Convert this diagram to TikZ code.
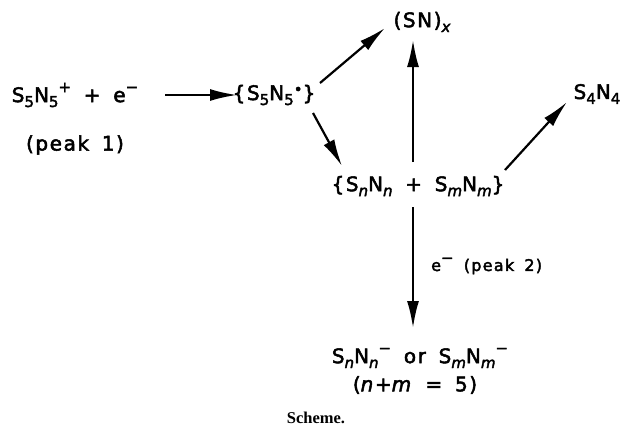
\documentclass[tikz,border=0pt]{standalone}
\usepackage{fontspec}
\setmainfont{DejaVu Sans}[LetterSpace=8,FakeBold=2.5,WordSpace=1.6]
\newfontfamily\capfont{Liberation Serif}
\usetikzlibrary{arrows.meta}
\newcommand\lo[1]{\raisebox{-0.45ex}{\fontsize{15}{15}\selectfont #1}}
\newcommand\hi[1]{\raisebox{0.9ex}{\fontsize{15}{15}\selectfont #1}}
\newcommand\dt[1]{\raisebox{0.5ex}{\fontsize{15}{15}\selectfont #1}}
\begin{document}
\begin{tikzpicture}[x=1pt,y=-1pt,
  chem/.style={inner sep=0pt,font=\fontsize{20}{24}\selectfont},
  rxn/.style={line width=2.2pt,-{Latex[length=27pt,width=12pt]}}]
\useasboundingbox (0,0) rectangle (621,432);
\node[chem] (r) at (75,95) {S\lo{5}N\lo{5}\hi{+} + e\hi{−}};
\node[chem] (p1) at (75,145) {(peak 1)};
\node[chem] (rad) at (274,95) {\{S\lo{5}N\lo{5}\dt{•}\}};
\node[chem] (sn) at (422,22) {(SN)\lo{\itshape x}};
\node[chem] (mix) at (418,186) {\{S\lo{\itshape n}N\lo{\itshape n} + S\lo{\itshape m}N\lo{\itshape m}\}};
\node[chem] (s4) at (597,94) {S\lo{4}N\lo{4}};
\node[chem] (an) at (420,358) {S\lo{\itshape n}N\lo{\itshape n}\hi{−} or S\lo{\itshape m}N\lo{\itshape m}\hi{−}};
\node[chem] (nm) at (415,385) {(\textit{n}+\textit{m} = 5)};
\node[inner sep=0pt,font=\capfont\bfseries\fontsize{16.5}{18}\selectfont] (cap) at (316,418) {Scheme.};
\coordinate (a1s) at (165,95); \coordinate (a1e) at (237,95);
\draw[rxn] (a1s) -- (a1e);
\coordinate (a2s) at (320,83); \coordinate (a2e) at (385,28);
\draw[rxn] (a2s) -- (a2e);
\coordinate (a3s) at (313,113); \coordinate (a3e) at (342,166);
\draw[rxn] (a3s) -- (a3e);
\coordinate (a4s) at (413,162); \coordinate (a4e) at (413,40);
\draw[rxn] (a4s) -- (a4e);
\coordinate (a5s) at (505,170); \coordinate (a5e) at (567,102);
\draw[rxn] (a5s) -- (a5e);
\coordinate (a6s) at (413,207); \coordinate (a6e) at (413,328);
\draw[rxn] (a6s) -- (a6e);
\node[chem,font=\fontsize{16}{18}\selectfont,anchor=west] (lab) at (431,266) {e\hi{−} (peak 2)};
\end{tikzpicture}
\end{document}
